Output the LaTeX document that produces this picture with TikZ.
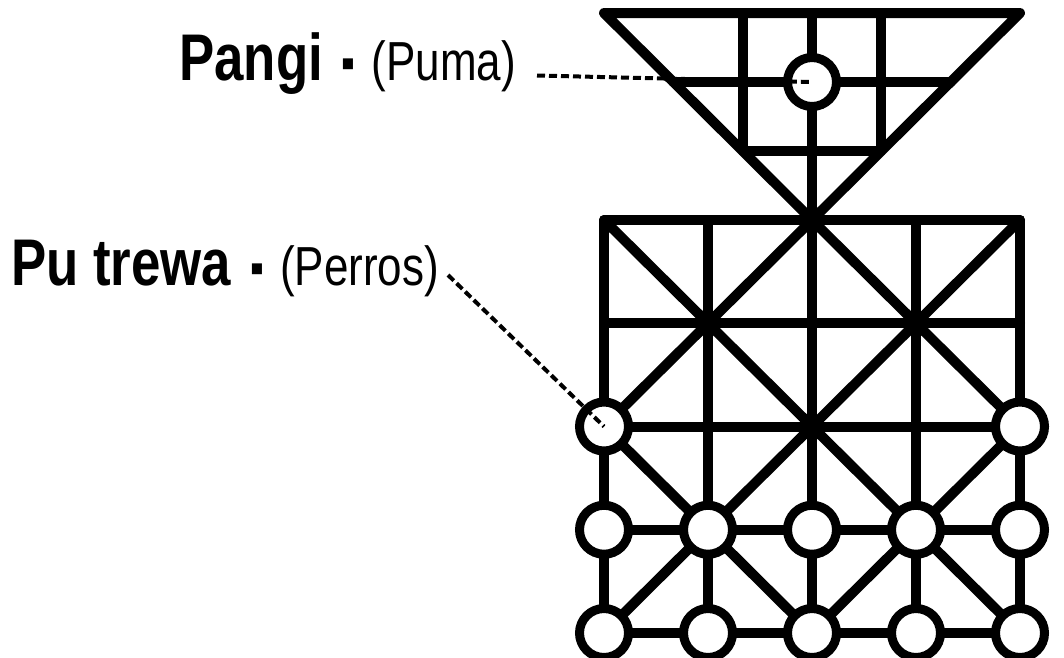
\documentclass[tikz,border=0pt]{standalone}
\usepackage{fontspec}
\setmainfont{Liberation Sans}[FakeStretch=0.80]
\newcommand{\sepdot}{\hspace{16pt}{\fontsize{66}{70}\selectfont\bfseries\raisebox{-8pt}{\scalebox{1.35}[1.1]{·}}}\hspace{9pt}}
\begin{document}
\begin{tikzpicture}[x=1pt,y=-1pt,
  board/.style={line width=10pt,line cap=round,line join=round},
  piece/.style={circle,draw,fill=white,line width=9pt,minimum size=49pt,inner sep=0pt},
  leader/.style={line width=4pt,dash pattern=on 8pt off 4pt},
  lbl/.style={anchor=base west,inner sep=0pt}]
\useasboundingbox (0,0) rectangle (1064,657);
% grid points
\foreach \i/\x in {0/604,1/708,2/812,3/916,4/1020}{
  \foreach \j/\y in {0/220,1/323.25,2/426.5,3/529.75,4/633}{
    \coordinate (g\i\j) at (\x,\y);
  }
}
% triangle points
\coordinate (tl) at (604,13);
\coordinate (tr) at (1020,13);
\coordinate (t1) at (743,13);
\coordinate (t2) at (812,13);
\coordinate (t3) at (881,13);
\coordinate (ml) at (673.3,82);
\coordinate (mr) at (950.7,82);
\coordinate (bl) at (743,151);
\coordinate (br) at (881,151);
% triangle
\draw[board] (tl) -- (tr) -- (g20) -- cycle;
\draw[board] (t1) -- (bl) -- (br) -- (t3);
\draw[board] (t2) -- (g20);
\draw[board] (ml) -- (mr);
% square board
\draw[board] (g00) -- (g40) -- (g44) -- (g04) -- cycle;
\foreach \j in {1,2,3}{\draw[board] (g0\j) -- (g4\j);}
\foreach \i in {1,2,3}{\draw[board] (g\i0) -- (g\i4);}
\draw[board] (g00) -- (g44);
\draw[board] (g40) -- (g04);
\draw[board] (g20) -- (g02) -- (g24) -- (g42) -- cycle;
% pieces
\node[piece] (puma) at (812,82) {};
\node[piece] (dA) at (g02) {};
\node[piece] (dB) at (g42) {};
\foreach \i in {0,...,4}{
  \node[piece] (r\i) at (g\i3) {};
  \node[piece] (s\i) at (g\i4) {};
}
% labels
\node[lbl] (lp) at (179,80) {{\fontsize{66}{70}\selectfont\bfseries Pangi}\sepdot{\fontsize{55}{60}\selectfont (Puma)}};
\node[lbl] (ld) at (11,285) {{\fontsize{66}{70}\selectfont\bfseries Pu trewa}\sepdot{\fontsize{55}{60}\selectfont (Perros)}};
% leaders
\coordinate (e1) at (537,75.5);
\coordinate (e2) at (448,275);
\draw[leader] (e1) -- (puma.center);
\draw[leader] (e2) -- (dA.center);
\end{tikzpicture}
\end{document}
